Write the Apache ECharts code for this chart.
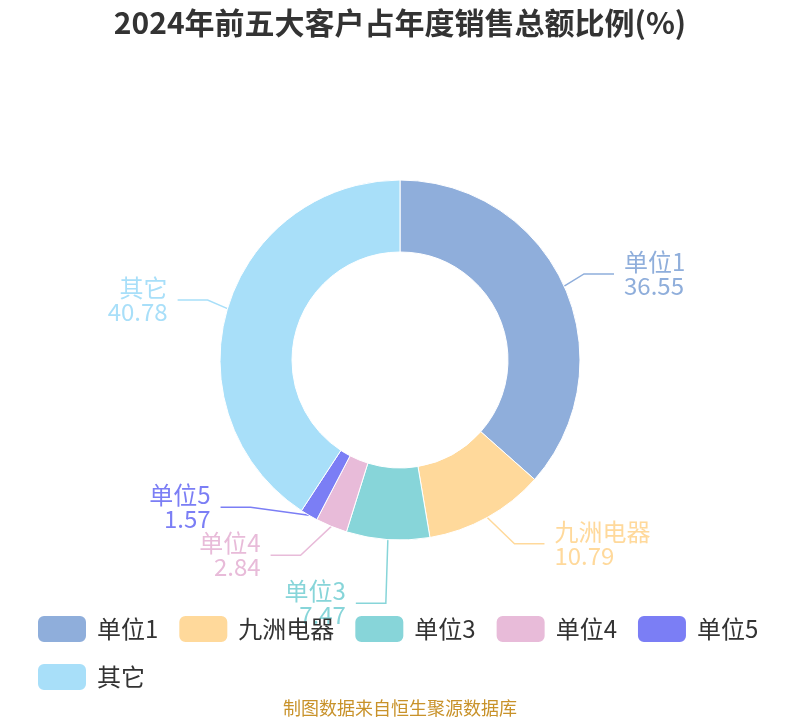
<!DOCTYPE html>
<html><head><meta charset="utf-8">
<script src="https://cdn.jsdelivr.net/npm/echarts@6/dist/echarts.min.js"></script>
<style>html,body{margin:0;padding:0;background:#fff}#c{width:800px;height:720px}</style>
</head><body><div id="c"></div>
<script>
const categories = ['单位1','九洲电器','单位3','单位4','单位5','其它'];
const values = [36.55, 10.79, 7.47, 2.84, 1.57, 40.78];
const colors = ['#8faedb','#ffd99b','#87d5d9','#e8bbd9','#7b7ef5','#a8dff9'];
const legendRow1 = categories.slice(0, 5);
const legendRow2 = categories.slice(5);

// pie geometry / label-line settings
const CX = 400, CY = 360, R_OUT = 180, R_IN = 108;
const LEN = 30, LEN2 = 30, GAP = 10, LABEL_H = 48, VIEW_H = 720;

// classic label placement: radial first segment, horizontal second,
// overlapping labels shifted on each side, x placed on a circle
function computeLabelLayout(vals) {
  const total = vals.reduce((a, b) => a + b, 0);
  let acc = 0;
  const items = vals.map((v, i) => {
    const mid = (acc + v / 2) / total * 2 * Math.PI; acc += v;
    const dx = Math.sin(mid), dy = -Math.cos(mid);
    const x1 = CX + R_OUT * dx, y1 = CY + R_OUT * dy;
    const x2 = x1 + LEN * dx, y2 = y1 + LEN * dy;
    const dir = dx < 0 ? -1 : 1;
    const x3 = x2 + dir * LEN2;
    return {i, dir, p1: [x1, y1], x: x3 + dir * GAP, y: y2, h: LABEL_H};
  });
  [-1, 1].forEach(dir => adjustSide(items.filter(it => it.dir === dir), dir));
  items.forEach(it => {
    const end = it.x - it.dir * GAP;
    it.points = [it.p1, [end - it.dir * LEN2, it.y], [end, it.y]];
  });
  return items;
}
function adjustSide(list, dir) {
  list.sort((a, b) => a.y - b.y);
  function shiftUp(end, delta) {
    for (let j = end; j >= 0; j--) {
      if (list[j].y - delta < 0) break;
      list[j].y -= delta;
      if (j > 0 && list[j].y > list[j - 1].y + list[j - 1].h) break;
    }
  }
  function shiftDown(start, end, delta) {
    for (let j = start; j < end; j++) {
      if (list[j].y + delta > VIEW_H) break;
      list[j].y += delta;
      if (j > start && j + 1 < end && list[j + 1].y > list[j].y + list[j].h) {
        shiftUp(j, delta / 2); return;
      }
    }
    shiftUp(end - 1, delta / 2);
  }
  let lastY = 0;
  for (let i = 0; i < list.length; i++) {
    const delta = list[i].y - lastY;
    if (delta < 0) shiftDown(i, list.length, -delta);
    lastY = list[i].y + list[i].h;
  }
  const up = list.filter(it => it.y < CY), down = list.filter(it => it.y >= CY);
  [[up, false], [down, true]].forEach(([arr, isDown]) => {
    let last = isDown ? Number.MAX_VALUE : 0;
    arr.forEach(it => {
      const dy = Math.abs(it.y - CY);
      const rr = R_OUT + LEN + LEN2;
      let dxx = dy < R_OUT + LEN ? Math.sqrt(rr * rr - dy * dy) : Math.abs(it.x - CX);
      if (isDown && dxx >= last) dxx = last - 10;
      if (!isDown && dxx <= last) dxx = last + 10;
      it.x = CX + dxx * dir;
      last = dxx;
    });
  });
}
const labelLayoutData = computeLabelLayout(values);

const FONT = '"Noto Sans CJK SC", "Noto Sans", sans-serif';
const legendCommon = {left: 31, itemWidth: 50, itemHeight: 28, itemGap: 19, icon: 'roundRect',
  textStyle: {fontSize: 24, color: '#333', padding: [0, 0, 0, 5]}};
const chart = echarts.init(document.getElementById('c'));
chart.setOption({
  color: colors,
  textStyle: {fontFamily: FONT},
  title: {text: '2024年前五大客户占年度销售总额比例(%)', left: 'center', top: 3,
    textStyle: {fontSize: 30, fontWeight: 'bold', color: '#333'}},
  legend: [
    Object.assign({top: 609, data: legendRow1}, legendCommon),
    Object.assign({top: 657, data: legendRow2}, legendCommon)
  ],
  graphic: [{type: 'text', left: 'center', top: 699,
    style: {text: '制图数据来自恒生聚源数据库', fontSize: 18, fill: '#c8922a', fontFamily: FONT}}],
  series: [{
    type: 'pie', center: [CX, CY], radius: [R_IN, R_OUT], startAngle: 90,
    data: categories.map((n, i) => ({name: n, value: values[i]})),
    label: {formatter: '{b}\n{c}', fontSize: 24, lineHeight: 24, color: 'inherit'},
    labelLine: {length: LEN, length2: LEN2, lineStyle: {width: 1.5}},
    labelLayout: function (p) {
      const it = labelLayoutData[p.dataIndex];
      return {x: it.x, y: it.y, align: it.dir < 0 ? 'right' : 'left', verticalAlign: 'middle',
        labelLinePoints: it.points};
    },
    itemStyle: {borderColor: '#fff', borderWidth: 1}
  }]
});
</script></body></html>
